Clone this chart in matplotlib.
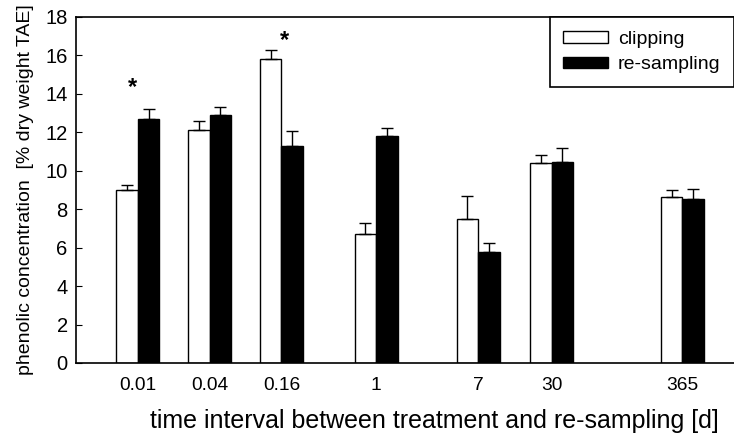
import matplotlib
matplotlib.use("Agg")
import matplotlib.pyplot as plt
import numpy as np

plt.rcParams['font.family'] = ['Liberation Sans', 'DejaVu Sans']

categories = ["0.01", "0.04", "0.16", "1", "7", "30", "365"]
clipping = [9.0, 12.1, 15.8, 6.7, 7.5, 10.4, 8.65]
clipping_err = [0.25, 0.5, 0.5, 0.6, 1.2, 0.4, 0.35]
resampling = [12.7, 12.9, 11.3, 11.8, 5.75, 10.45, 8.55]
resampling_err = [0.5, 0.4, 0.75, 0.4, 0.47, 0.75, 0.5]
# significance markers: (category index, height)
star_index = [0, 2]
star_height = [14.35, 16.75]

x = np.array([0, 1, 2, 3.32, 4.74, 5.76, 7.58])
w = 0.3
star_dx = [-0.07, 0.04]

fig = plt.figure(figsize=(7.34, 4.34), dpi=100)
ax = fig.add_axes([0.1035, 0.1636, 0.8965, 0.7974])

ax.bar(x - w/2, clipping, w, color='white', edgecolor='black', linewidth=1.0,
       label='clipping', zorder=2)
ax.bar(x + w/2, resampling, w, color='black', edgecolor='black', linewidth=1.0,
       label='re-sampling', zorder=2)
ax.errorbar(x - w/2, clipping, yerr=[np.zeros(len(x)), clipping_err], fmt='none',
            ecolor='black', elinewidth=1.0, capsize=4, capthick=1.0, zorder=3)
ax.errorbar(x + w/2, resampling, yerr=[np.zeros(len(x)), resampling_err], fmt='none',
            ecolor='black', elinewidth=1.0, capsize=4, capthick=1.0, zorder=3)

for i, h, dx in zip(star_index, star_height, star_dx):
    ax.text(x[i] + dx, h, '*', ha='center', va='center',
            fontsize=17, fontweight='bold')

ax.set_xlim(-0.86, 8.3)
ax.set_ylim(0, 18)
ax.set_yticks(np.arange(0, 19, 2))
ax.set_xticks(x)
ax.set_xticklabels(categories)
ax.tick_params(axis='y', direction='in', length=4, labelsize=14.5, pad=6)
ax.tick_params(axis='x', length=0, labelsize=13.8, pad=10)
ax.spines['right'].set_visible(False)
for s in ['left', 'bottom', 'top']:
    ax.spines[s].set_linewidth(1.2)

ax.set_xlabel('time interval between treatment and re-sampling [d]', fontsize=18)
ax.xaxis.label.set_va('center')
ax.xaxis.set_label_coords(0.544, -0.168)
ax.set_ylabel('phenolic concentration  [% dry weight TAE]', fontsize=14, labelpad=8)

leg = ax.legend(loc='upper right', borderaxespad=0, fancybox=False, framealpha=1,
                edgecolor='black', fontsize=14, handlelength=2.3, handleheight=0.55,
                handletextpad=0.5, borderpad=0.7, labelspacing=0.45)
leg.get_frame().set_linewidth(1.2)

fig.savefig('out.png', dpi=100)
